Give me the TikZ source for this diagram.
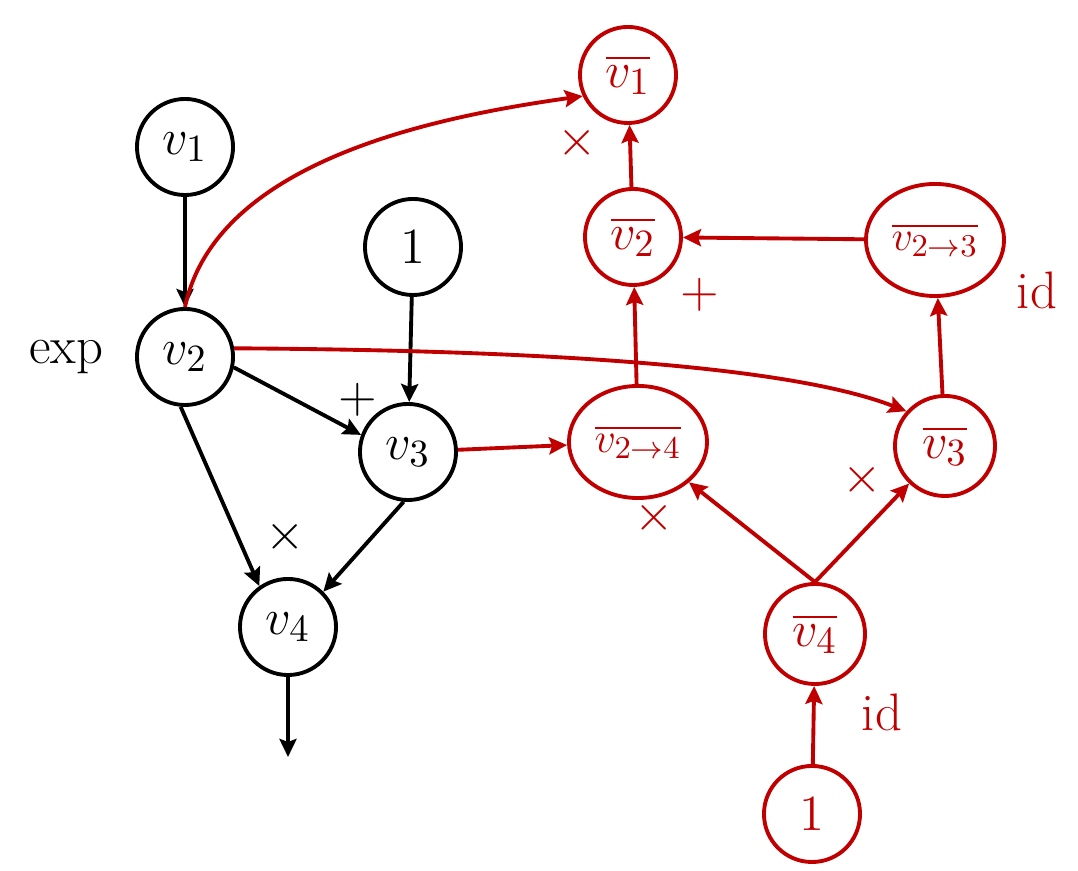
\documentclass[tikz,border=0pt]{standalone}
\usepackage{amsmath,amssymb}
\usepackage{tikz}
\usetikzlibrary{arrows.meta,positioning,shapes.geometric}
\definecolor{adjred}{RGB}{192,0,0}

\begin{document}
\begin{tikzpicture}[
  x=0.01cm, y=0.01cm, font=\fontsize{15}{18}\selectfont,
  vnode/.style={draw,circle,line width=1.1pt,minimum size=0.96cm,inner sep=0pt},
  anode/.style={vnode,draw=adjred,text=adjred},
  aell/.style={draw=adjred,text=adjred,ellipse,line width=1.1pt,inner sep=0pt,
               minimum width=1.38cm,minimum height=1.12cm,font=\fontsize{13}{16}\selectfont},
  arr/.style={-{Stealth[length=1.8mm,width=1.7mm,inset=0.3mm]},line width=1.1pt},
  rarr/.style={arr,color=adjred},
  rlbl/.style={text=adjred},
]
\useasboundingbox (0,0) rectangle (1078,-871);
% forward graph
\node[vnode] (v1) at (185,-147) {$v_1$};
\node[vnode] (one) at (413,-247) {$1$};
\node[vnode] (v2) at (185,-357) {$v_2$};
\node[vnode] (v3) at (408,-452) {$v_3$};
\node[vnode] (v4) at (288,-627) {$v_4$};
\coordinate (out) at (288,-757);
\node (exp) at (66,-357) {exp};
\node (plus) at (358,-400) {$+$};
\node (times) at (285,-537) {$\times$};
% adjoint graph
\node[anode] (v1b) at (628,-75) {$\overline{v_1}$};
\node[anode] (v2b) at (633,-237) {$\overline{v_2}$};
\node[aell] (v23b) at (935,-240) {$\overline{v_{2\to3}}$};
\node[aell] (v24b) at (638,-442) {$\overline{v_{2\to4}}$};
\node[anode,minimum size=1cm] (v3b) at (945,-446) {$\overline{v_3}$};
\node[anode,minimum size=1cm] (v4b) at (815,-634) {$\overline{v_4}$};
\node[anode] (oneb) at (812,-814) {$1$};
\node[rlbl] (tv1b) at (577,-143) {$\times$};
\node[rlbl] (pv2b) at (700,-295) {$+$};
\node[rlbl] (id23) at (1037,-290) {id};
\node[rlbl] (tv24b) at (654,-518) {$\times$};
\node[rlbl] (tv3b) at (862,-480) {$\times$};
\node[rlbl] (id4) at (882,-712) {id};

\draw[arr] (v1) -- (v2);
\draw[arr] (one) -- (v3);
\draw[arr] (v2.-12) -- (v3.160);
\draw[arr] (v2.-95) -- (v4.125);
\draw[arr] (v3.-95) -- (v4.45);
\draw[arr] (v4) -- (out);

\draw[rarr] (v2.north) to[out=78,in=188,looseness=0.85] (v1b.205);
\draw[rarr] (v2.10) .. controls (500,-350) and (780,-362) .. (v3b.138);
\draw[rarr] (v3) -- (v24b);
\draw[rarr] (v24b) -- (v2b);
\draw[rarr] (v2b) -- (v1b);
\draw[rarr] (v23b) -- (v2b);
\draw[rarr] (v3b) -- (v23b);
\draw[rarr] (v4b.north) -- (v24b);
\draw[rarr] (v4b.north) -- (v3b);
\draw[rarr] (oneb) -- (v4b);
\end{tikzpicture}
\end{document}
